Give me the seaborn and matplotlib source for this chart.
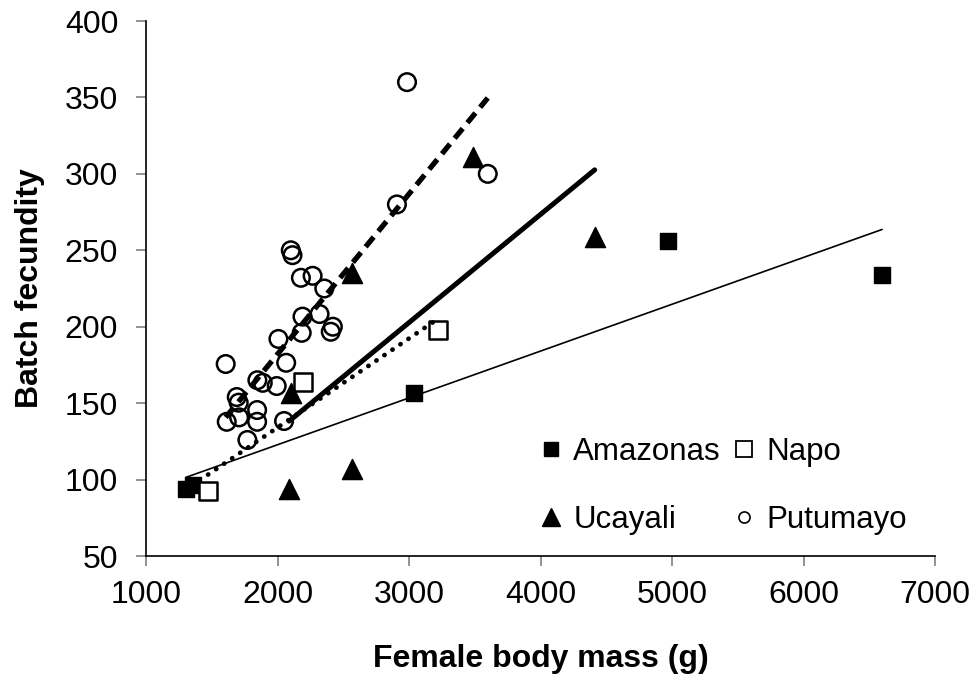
import matplotlib
matplotlib.use("Agg")
import matplotlib.pyplot as plt
from matplotlib.lines import Line2D
import numpy as np
import pandas as pd
import seaborn as sns

# ---- data ----
amazonas_x = [1305, 1358, 3041, 4968, 6598]
amazonas_y = [93.8, 96.4, 156.6, 256.0, 233.8]

napo_x = [1472, 2196, 3224]
napo_y = [92.5, 163.8, 197.8]

ucayali_x = [3490, 2569, 2104, 2089, 2569, 4412]
ucayali_y = [311.0, 235.0, 156.6, 93.8, 107.0, 258.6]

putumayo_x = [2985, 3599, 2908, 2101, 2114, 2178, 2267, 2356, 2190, 2320,
              2421, 2405, 2184, 2007, 1606, 2066, 1847, 1888, 1994, 1690,
              1705, 1614, 1708, 1845, 1845, 2050, 1771]
putumayo_y = [360.0, 300.0, 280.0, 250.0, 246.8, 232.0, 233.3, 225.0, 206.6, 208.3,
              200.0, 196.7, 196.0, 192.0, 175.6, 176.4, 165.0, 163.3, 161.2, 154.0,
              150.3, 137.8, 140.7, 145.5, 137.8, 138.3, 125.9]

x_ticks = [1000, 2000, 3000, 4000, 5000, 6000, 7000]
y_ticks = [50, 100, 150, 200, 250, 300, 350, 400]

sns.set_style("white")
plt.rcParams['font.family'] = ['Liberation Sans', 'DejaVu Sans']
plt.rcParams['text.color'] = 'black'
plt.rcParams['axes.labelcolor'] = 'black'

fig = plt.figure(figsize=(9.76, 6.82), dpi=100)
ax = fig.add_axes([146/976, 1-556/682, (935-146)/976, (556-21)/682])

df_a = pd.DataFrame({"x": amazonas_x, "y": amazonas_y})
df_n = pd.DataFrame({"x": napo_x, "y": napo_y})
df_u = pd.DataFrame({"x": ucayali_x, "y": ucayali_y})
df_p = pd.DataFrame({"x": putumayo_x, "y": putumayo_y})

sns.scatterplot(data=df_a, x="x", y="y", marker="s", s=130, color="black",
                edgecolor="black", linewidth=1, ax=ax, zorder=3)
sns.scatterplot(data=df_n, x="x", y="y", marker="s", s=150, facecolor="white",
                edgecolor="black", linewidth=1.8, ax=ax, zorder=3)
sns.scatterplot(data=df_u, x="x", y="y", marker="^", s=210, color="black",
                edgecolor="black", linewidth=1, ax=ax, zorder=3)
sns.scatterplot(data=df_p, x="x", y="y", marker="o", s=160, facecolor="none",
                edgecolor="black", linewidth=1.8, ax=ax, zorder=3)

sns.regplot(data=df_a, x="x", y="y", scatter=False, ci=None, truncate=True, ax=ax,
            line_kws=dict(color="black", lw=1.2, zorder=4))
sns.regplot(data=df_n, x="x", y="y", scatter=False, ci=None, truncate=True, ax=ax,
            line_kws=dict(color="black", lw=3.4, linestyle=(0, (0.05, 2.0)),
                          dash_capstyle="round", zorder=4))
sns.regplot(data=df_u, x="x", y="y", scatter=False, ci=None, truncate=True, ax=ax,
            line_kws=dict(color="black", lw=3.6, zorder=4))
sns.regplot(data=df_p, x="x", y="y", scatter=False, ci=None, truncate=True, ax=ax,
            line_kws=dict(color="black", lw=3.8, linestyle=(0, (2.4, 1.4)),
                          dash_capstyle="butt", zorder=4))

ax.set_xlim(1000, 7000)
ax.set_ylim(50, 400)
ax.set_xticks(x_ticks)
ax.set_yticks(y_ticks)
ax.tick_params(axis="both", labelsize=23, direction="out", length=7, width=1.2,
               color="#808080", labelcolor="black", left=True, bottom=True)
ax.tick_params(axis="x", pad=10)
ax.tick_params(axis="y", pad=13)
for side in ["top", "right"]:
    ax.spines[side].set_visible(False)
for side in ["left", "bottom"]:
    ax.spines[side].set_color("black")
    ax.spines[side].set_linewidth(1.2)

ax.set_xlabel("Female body mass (g)", fontsize=23, fontweight="bold", labelpad=25)
ax.set_ylabel("Batch fecundity", fontsize=23, fontweight="bold", labelpad=14)

handles = [
    Line2D([], [], marker="s", linestyle="none", markersize=10, markerfacecolor="black",
           markeredgecolor="black"),
    Line2D([], [], marker="^", linestyle="none", markersize=13, markerfacecolor="black",
           markeredgecolor="black"),
    Line2D([], [], marker="s", linestyle="none", markersize=11, markerfacecolor="white",
           markeredgecolor="black", markeredgewidth=1.3),
    Line2D([], [], marker="o", linestyle="none", markersize=8, markerfacecolor="white",
           markeredgecolor="black", markeredgewidth=1.2),
]
labels = ["Amazonas", "Ucayali", "Napo", "Putumayo"]
ax.legend(handles, labels, ncol=2, frameon=False, fontsize=22.5,
          loc="center", bbox_to_anchor=(0.731, 0.131),
          handlelength=0.8, handletextpad=0.3, columnspacing=0.35,
          labelspacing=1.2, borderaxespad=0)

fig.savefig("out.png", dpi=100)
